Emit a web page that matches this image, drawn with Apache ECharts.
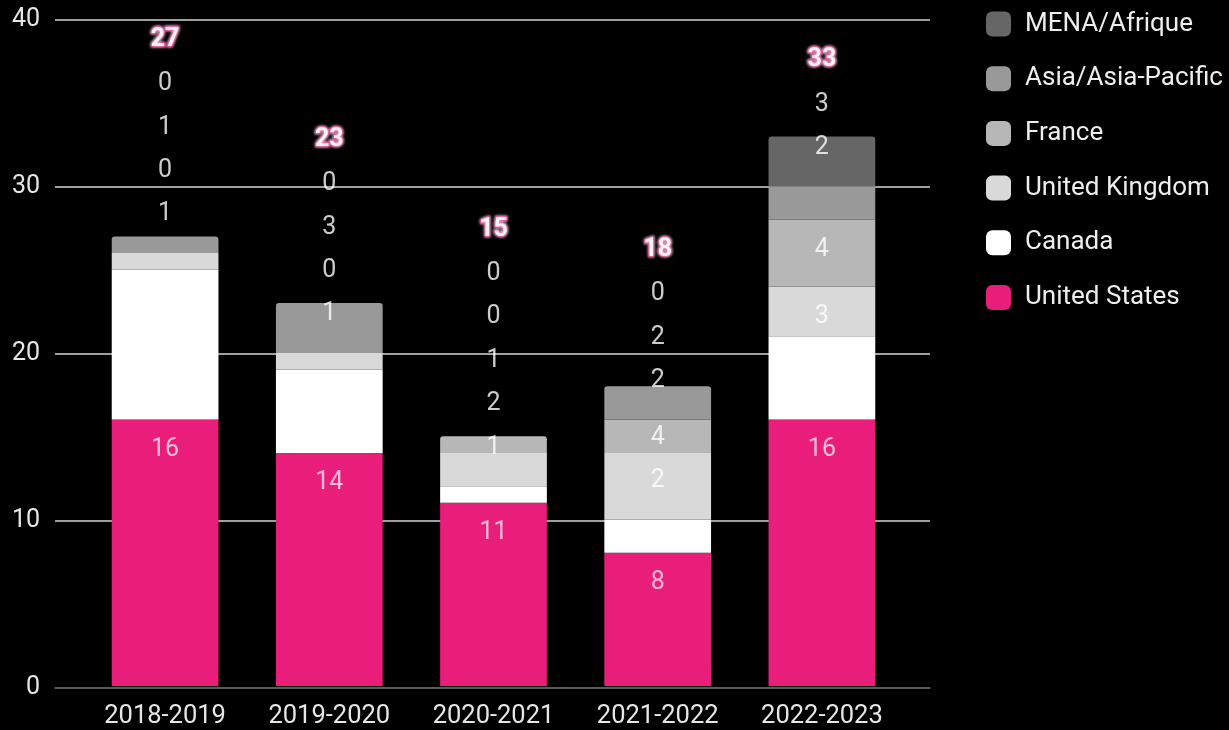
<!DOCTYPE html>
<html>
<head>
<meta charset="utf-8">
<script src="https://cdn.jsdelivr.net/npm/echarts@6/dist/echarts.min.js"></script>
<style>
html,body{margin:0;padding:0;background:#000;}
#chart{width:1229px;height:730px;}
</style>
</head>
<body>
<div id="chart"></div>
<script>
// ---- data ----
const categories = ['2018-2019', '2019-2020', '2020-2021', '2021-2022', '2022-2023'];
const unitedStates   = [16, 14, 11, 8, 16];
const canada         = [9, 5, 1, 2, 5];
const unitedKingdom  = [1, 1, 2, 4, 3];
const france         = [0, 0, 1, 2, 4];
const asiaPacific    = [1, 3, 0, 2, 2];
const menaAfrique    = [0, 0, 0, 0, 3];
const yTickMin = 0, yTickMax = 40, yTickStep = 10;

const seriesDefs = [
  { name: 'United States',     data: unitedStates,  color: '#e91e7a' },
  { name: 'Canada',            data: canada,        color: '#ffffff' },
  { name: 'United Kingdom',    data: unitedKingdom, color: '#d9d9d9' },
  { name: 'France',            data: france,        color: '#b7b7b7' },
  { name: 'Asia/Asia-Pacific', data: asiaPacific,   color: '#999999' },
  { name: 'MENA/Afrique',      data: menaAfrique,   color: '#666666' }
];

// ---- layout constants ----
const W = 1229, H = 730;
const gridTop = 20, gridBottom = 42;
const plotH = H - gridTop - gridBottom;
const ppu = plotH / (yTickMax - yTickMin); // pixels per unit
const STEP = 43.5, IN_OFF = 27, OUT_OFF = 42, FIT = 43;

// ---- label placement (collision push-up) ----
const segLabels = [];
const totalLabels = [];
categories.forEach((cat, c) => {
  let cum = 0, prev = -Infinity;
  seriesDefs.forEach((s) => {
    const v = s.data[c];
    const top = cum + v;
    cum = top;
    const ideal = (v * ppu >= FIT) ? top - IN_OFF / ppu : top + OUT_OFF / ppu;
    const pos = Math.max(ideal, prev + STEP / ppu);
    prev = pos;
    segLabels.push({
      value: [c, pos, v],
      label: { color: s.name === 'United States' ? 'rgba(255,255,255,0.88)' : '#ffffff' }
    });
  });
  const tpos = Math.max(cum + OUT_OFF / ppu, prev + STEP / ppu);
  totalLabels.push({ value: [c, tpos, cum] });
});

// top segment rounding
const topIdx = categories.map((_, c) => {
  let idx = -1;
  seriesDefs.forEach((s, i) => { if (s.data[c] > 0) idx = i; });
  return idx;
});

const barSeries = seriesDefs.map((s, i) => ({
  name: s.name,
  type: 'bar',
  stack: 'total',
  xAxisIndex: 1,
  yAxisIndex: 1,
  barWidth: '65%',
  itemStyle: { color: s.color },
  data: s.data.map((v, c) => topIdx[c] === i
    ? { value: v, itemStyle: { borderRadius: [3, 3, 0, 0] } }
    : v),
  z: 3
}));

const FONT = 'Roboto, "Noto Sans", sans-serif';

const option = {
  backgroundColor: '#000000',
  animation: false,
  textStyle: { fontFamily: FONT },
  legend: {
    left: 981,
    top: 6,
    orient: 'vertical',
    icon: 'roundRect',
    itemWidth: 25,
    itemHeight: 25,
    itemGap: 28.7,
    data: seriesDefs.map(s => s.name).reverse(),
    textStyle: { color: '#eeeeee', fontSize: 26, fontFamily: FONT, padding: [0, 0, 0, 9], lineHeight: 25 },
    selectedMode: false
  },
  grid: [
    { left: 55, right: W - 930, top: gridTop, bottom: gridBottom },
    { left: 83, right: W - 904, top: gridTop, bottom: gridBottom }
  ],
  xAxis: [
    {
      gridIndex: 0, type: 'value', min: 0, max: 1,
      axisLine: { show: true, lineStyle: { color: '#444444', width: 1.5 } },
      axisTick: { show: false }, axisLabel: { show: false }, splitLine: { show: false }
    },
    {
      gridIndex: 1, type: 'category', data: categories,
      axisLine: { show: false }, axisTick: { show: false },
      axisLabel: { color: '#e6e6e6', fontSize: 25.5, margin: 18, fontFamily: FONT }
    }
  ],
  yAxis: [
    {
      gridIndex: 0, type: 'value', min: yTickMin, max: yTickMax, interval: yTickStep,
      axisLine: { show: false }, axisTick: { show: false },
      axisLabel: { color: '#e6e6e6', fontSize: 25, margin: 15, fontFamily: FONT },
      splitLine: { lineStyle: { color: '#d4d4d4', width: 1.5 } }
    },
    {
      gridIndex: 1, type: 'value', min: yTickMin, max: yTickMax, interval: yTickStep,
      show: false
    }
  ],
  series: barSeries.concat([
    {
      type: 'scatter', xAxisIndex: 1, yAxisIndex: 1, silent: true,
      symbolSize: 0.01, itemStyle: { color: 'transparent' }, z: 10,
      label: {
        show: true, position: 'inside', fontSize: 25, fontFamily: FONT, color: '#ffffff',
        offset: [0, 3],
        formatter: p => String(p.value[2])
      },
      data: segLabels
    },
    {
      type: 'scatter', xAxisIndex: 1, yAxisIndex: 1, silent: true,
      symbolSize: 0.01, itemStyle: { color: 'transparent' }, z: 11,
      label: {
        show: true, position: 'inside', fontSize: 25, fontWeight: 'bold', fontFamily: FONT,
        color: '#ffffff', textBorderColor: '#e91e7a', textBorderWidth: 2.5,
        textShadowColor: '#ffffff', textShadowBlur: 3,
        offset: [0, 2],
        formatter: p => String(p.value[2])
      },
      data: totalLabels
    }
  ])
};

const chart = echarts.init(document.getElementById('chart'), null, { renderer: 'canvas' });
chart.setOption(option);
</script>
</body>
</html>
